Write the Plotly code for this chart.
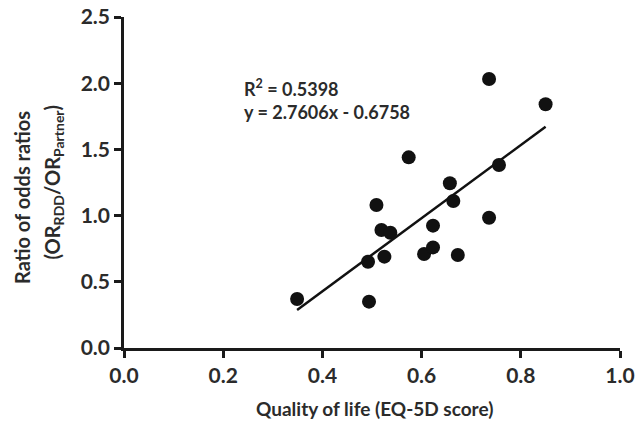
import plotly.graph_objects as go

qol = [0.349, 0.494, 0.492, 0.525, 0.509, 0.519, 0.537, 0.574, 0.605,
       0.623, 0.623, 0.673, 0.657, 0.664, 0.736, 0.756, 0.736, 0.850]
ratio = [0.370, 0.350, 0.652, 0.690, 1.080, 0.891, 0.871, 1.440, 0.710,
         0.760, 0.924, 0.702, 1.244, 1.110, 0.984, 1.382, 2.032, 1.841]
slope = 2.7606
intercept = -0.6758
x_ticks = [0.0, 0.2, 0.4, 0.6, 0.8, 1.0]
y_ticks = [0.0, 0.5, 1.0, 1.5, 2.0, 2.5]

FONT = "Lato"
TXT = "#2b2b2b"

fit_x = [min(qol), max(qol)]
fit_y = [slope * v + intercept for v in fit_x]

fig = go.Figure()
fig.add_trace(go.Scatter(x=fit_x, y=fit_y, mode="lines",
                         line=dict(color="#111111", width=2.5),
                         showlegend=False, hoverinfo="skip"))
fig.add_trace(go.Scatter(x=qol, y=ratio, mode="markers",
                         marker=dict(color="#111111", size=14),
                         showlegend=False))

fig.update_layout(
    width=638, height=422,
    margin=dict(l=124, r=18, t=17, b=74, autoexpand=False),
    paper_bgcolor="white", plot_bgcolor="white",
    font=dict(family=FONT, color=TXT),
    xaxis=dict(range=[0, 1.0], tickvals=x_ticks,
               ticktext=[f"{v:.1f}" for v in x_ticks],
               showgrid=False, zeroline=False, showline=True,
               linecolor="#1a1a1a", linewidth=2.5,
               ticks="outside", ticklen=7, tickwidth=2.5, tickcolor="#1a1a1a",
               tickfont=dict(family=FONT, size=21, color=TXT, weight="bold"),
               automargin=False),
    yaxis=dict(range=[0, 2.5], tickvals=y_ticks,
               ticktext=[f"{v:.1f}" for v in y_ticks],
               showgrid=False, zeroline=False, showline=True,
               linecolor="#1a1a1a", linewidth=2.5,
               ticks="outside", ticklen=7, tickwidth=2.5, tickcolor="#1a1a1a",
               automargin=False,
               tickfont=dict(family=FONT, size=21, color=TXT, weight="bold")),
)

# x-axis title
fig.add_annotation(text="Quality of life (EQ-5D score)", xref="paper", yref="paper",
                   x=0.506, y=0, xanchor="center", yanchor="middle",
                   yshift=-60, showarrow=False,
                   font=dict(family=FONT, size=19, color=TXT, weight="bold"))

# y-axis title (two lines)
fig.add_annotation(text="Ratio of odds ratios", xref="paper", yref="paper",
                   x=0, y=0.453, xanchor="center", yanchor="middle",
                   xshift=-102, textangle=-90, showarrow=False,
                   font=dict(family=FONT, size=20, color=TXT, weight="bold"))
fig.add_annotation(text="(OR<sub>RDD</sub>/OR<sub>Partner</sub>)", xref="paper", yref="paper",
                   x=0, y=0.5, xanchor="center", yanchor="middle",
                   xshift=-71, textangle=-90, showarrow=False,
                   font=dict(family=FONT, size=20, color=TXT, weight="bold"))

fig.add_annotation(text=f"R<sup>2</sup> = 0.5398<br>y = {slope}x - {abs(intercept)}",
                   xref="x", yref="y", x=0.238, y=1.877,
                   xanchor="left", yanchor="middle", align="left",
                   showarrow=False,
                   font=dict(family=FONT, size=18, color=TXT, weight="bold"))

fig.write_html("out.html", config={"displayModeBar": False},
               post_script="document.body.style.margin='0';")
